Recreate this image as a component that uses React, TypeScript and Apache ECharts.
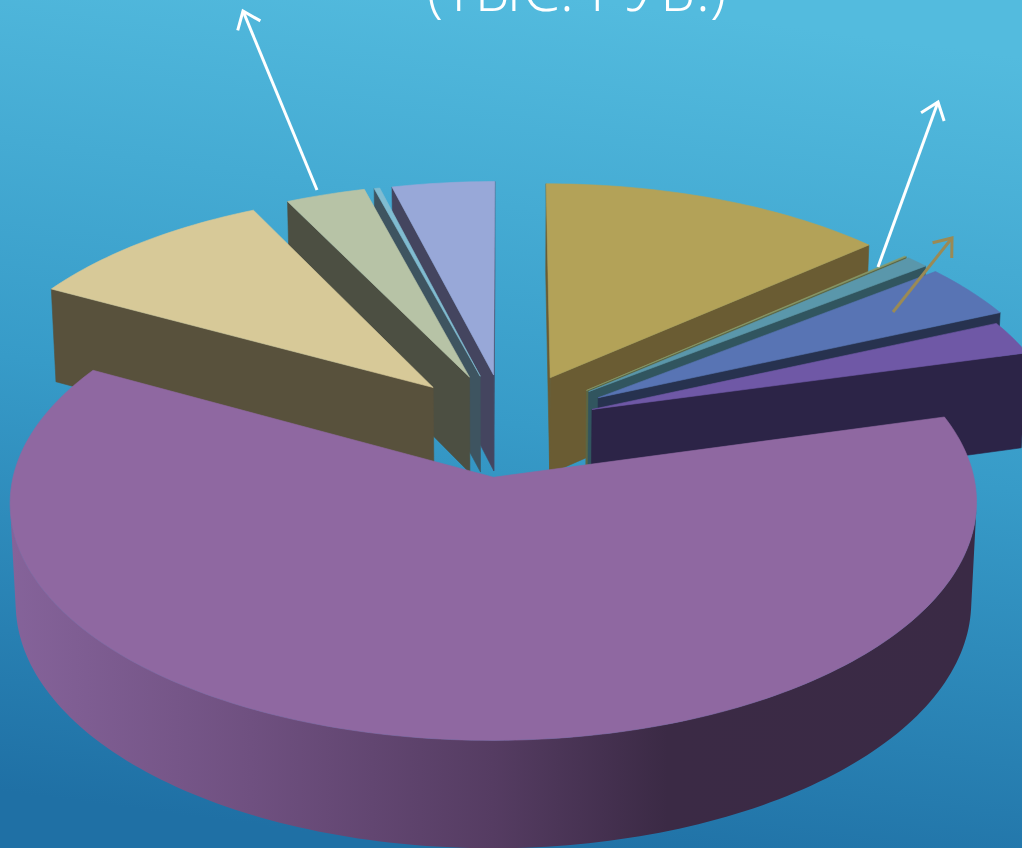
import React, { useEffect, useRef } from "react";
import * as echarts from "echarts";

// Slice shares in pie order, clockwise from twelve o'clock (%)
const sliceValues = [13.47, 0.08, 0.89, 3.89, 2.42, 62.2, 9.78, 3.08, 0.22, 3.97];
const topColors = ["#b3a258", "#8a9a6a", "#5a97ab", "#5874b4", "#6f58a6", "#8f68a1", "#d7c998", "#b7c3a6", "#80bcd1", "#98a8d8"];
const sideColors = ["#6a5c33", "#5b6644", "#31555f", "#27324f", "#2c2447", "#3a2a45", "#58513c", "#4c4f42", "#3e5460", "#44455f"];
const explosions = [0.232, 0.231, 0.231, 0.231, 0.195, 0.234, 0.23, 0.229, 0.226, 0.226];
const BIG_SLICE = 5;

// Scene geometry
const W = 1022, H = 848;
const CX = 506.5, CY = 424, RX = 468.7, RY = 223.5;
const PERSP = 0.105, DEPTH_PERSP = 0.011, THICK = 0.441;

const sum = sliceValues.reduce((a, b) => a + b, 0);
const starts: number[] = [];
sliceValues.reduce((acc, v, i) => { starts[i] = acc; return acc + (v / sum) * 2 * Math.PI; }, 0);

const project = (u: number, v: number, h: number) => {
  const s = 1 / (1 - PERSP * v + DEPTH_PERSP * h);
  return [u * s, (v + THICK * h) * s];
};

const area = (pts: number[][]) => {
  let a = 0;
  pts.forEach((p, i) => { const q = pts[(i + 1) % pts.length]; a += p[0] * q[1] - q[0] * p[1]; });
  return a / 2;
};

const depthOf = (i: number) => -Math.cos(starts[i] + (sliceValues[i] / sum) * Math.PI);
const drawOrder = sliceValues.map((_, i) => i).sort((a, b) => depthOf(a) - depthOf(b));

const renderSlice = (_params: any, api: any) => {
  const idx = api.value(1) as number;
  const val = api.value(0) as number;
  const span = (val / sum) * 2 * Math.PI;
  const a0 = starts[idx];
  const mid = a0 + span / 2;
  const eu = Math.sin(mid) * explosions[idx], ev = -Math.cos(mid) * explosions[idx];
  const n = Math.max(2, Math.ceil(span / 0.02));
  const at = (u: number, v: number, h: number) => api.coord(project(u, v, h));
  const apexT = at(eu, ev, 0), apexB = at(eu, ev, 1);
  const rimT: number[][] = [], rimB: number[][] = [];
  for (let k = 0; k <= n; k++) {
    const t = a0 + (span * k) / n;
    const u = eu + Math.sin(t), v = ev - Math.cos(t);
    rimT.push(at(u, v, 0));
    rimB.push(at(u, v, 1));
  }
  const side = sideColors[idx], top = topColors[idx];
  const poly = (points: number[][], fill: any, stroke: string) => ({
    type: "polygon",
    shape: { points },
    style: { fill, stroke, lineWidth: 0.6 },
  });
  const children: any[] = [];
  const startFace = [apexT, rimT[0], rimB[0], apexB];
  const endFace = [rimT[n], apexT, apexB, rimB[n]];
  if (area(startFace) < 0) children.push(poly(startFace, side, side));
  if (area(endFace) < 0) children.push(poly(endFace, side, side));
  const visT: number[][] = [], visB: number[][] = [];
  for (let k = 0; k < n; k++) {
    if (area([rimT[k], rimT[k + 1], rimB[k + 1], rimB[k]]) < 0) {
      if (!visT.length) { visT.push(rimT[k]); visB.push(rimB[k]); }
      visT.push(rimT[k + 1]);
      visB.push(rimB[k + 1]);
    }
  }
  if (visT.length) {
    const pts = visT.concat(visB.slice().reverse());
    const fill = idx === BIG_SLICE
      ? new echarts.graphic.LinearGradient(0, 0, 1, 0, [
          { offset: 0, color: "#85639a" },
          { offset: 0.25, color: "#6f5080" },
          { offset: 0.5, color: "#553c62" },
          { offset: 0.68, color: "#3b2a45" },
          { offset: 1, color: "#3a2a45" },
        ])
      : side;
    children.push(poly(pts, fill, idx === BIG_SLICE ? "none" : side));
  }
  children.push(poly([apexT, ...rimT], top, top));
  return { type: "group", children };
};

const arrow = (x0: number, y0: number, x1: number, y1: number, wing: number, color: string, lineWidth: number) => {
  const a = Math.atan2(y1 - y0, x1 - x0);
  const w = (d: number) => [x1 - wing * Math.cos(a + d), y1 - wing * Math.sin(a + d)];
  return {
    type: "group",
    z: 10,
    children: [
      { type: "line", z: 10, shape: { x1: x0, y1: y0, x2: x1, y2: y1 }, style: { stroke: color, lineWidth } },
      { type: "polyline", z: 10, shape: { points: [w(0.66), [x1, y1], w(-0.66)] }, style: { stroke: color, lineWidth, fill: "none" } },
    ],
  };
};

export default function App() {
  const ref = useRef<HTMLDivElement>(null);
  useEffect(() => {
    const chart = echarts.init(ref.current!, undefined, { renderer: "svg" });
    chart.setOption({
      animation: false,
      backgroundColor: new echarts.graphic.LinearGradient(0.58, 0, 0.42, 1, [
        { offset: 0, color: "#53bbde" },
        { offset: 0.5, color: "#379bc8" },
        { offset: 1, color: "#1f70a5" },
      ]),
      grid: { left: 0, right: 0, top: 0, bottom: 0 },
      xAxis: { type: "value", show: false, min: -CX / RX, max: (W - CX) / RX },
      yAxis: { type: "value", show: false, inverse: true, min: -CY / RY, max: (H - CY) / RY },
      series: [
        {
          type: "custom",
          coordinateSystem: "cartesian2d",
          renderItem: renderSlice,
          clip: false,
          silent: true,
          data: drawOrder.map((i) => [sliceValues[i], i]),
        },
      ],
      graphic: [
        {
          type: "text",
          x: 576.5,
          y: 18,
          style: {
            text: "(ТЫС. РУБ.)",
            fill: "#ffffff",
            font: '300 60px "Open Sans", sans-serif',
            textAlign: "center",
            textVerticalAlign: "bottom",
          },
        },
        arrow(317, 190, 243, 11, 20, "#ffffff", 3),
        arrow(878, 267, 938, 102, 20, "#ffffff", 3),
        arrow(893, 312, 952, 238, 20, "#9a8a55", 3),
      ],
    });
    return () => chart.dispose();
  }, []);
  return <div ref={ref} style={{ position: "fixed", left: 0, top: 0, width: W, height: H }} />;
}
